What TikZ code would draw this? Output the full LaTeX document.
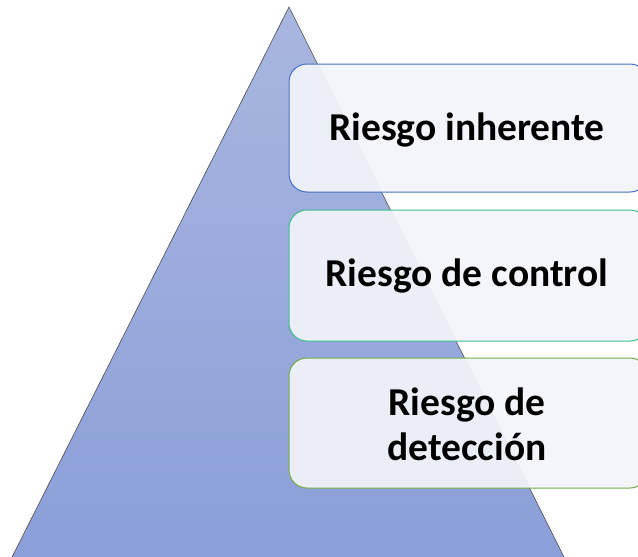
\documentclass[tikz,border=0pt]{standalone}
\usepackage{fontspec}
\setmainfont{Carlito}
\begin{document}
\begin{tikzpicture}[x=1pt,y=-1pt,
  riskbox/.style={draw, line width=1pt, rounded corners=18pt, fill=boxfill, fill opacity=0.93, text opacity=1},
  risklabel/.style={font=\bfseries\fontsize{39.5}{45}\selectfont, align=center, text=black}]
\definecolor{boxfill}{RGB}{243,244,250}
\definecolor{tritop}{RGB}{168,182,224}
\definecolor{tribot}{RGB}{138,158,216}
\definecolor{edgeA}{RGB}{68,114,196}
\definecolor{edgeB}{RGB}{60,190,140}
\definecolor{edgeC}{RGB}{112,173,71}
\useasboundingbox (0,0) rectangle (638,557);
\begin{scope}
\clip (0,0) rectangle (638,557);
\coordinate (apex) at (289,7);
\coordinate (bl) at (3,575);
\coordinate (br) at (573,575);
\shade[top color=tritop, bottom color=tribot, draw=black!70, line width=0.6pt] (apex) -- (br) -- (bl) -- cycle;
\draw[riskbox, draw=edgeA] (289,64) rectangle (648,192);
\draw[riskbox, draw=edgeB] (289,210) rectangle (648,341);
\draw[riskbox, draw=edgeC] (289,358) rectangle (648,488);
\end{scope}
\node[risklabel] (r1) at (467,130) {Riesgo inherente};
\node[risklabel] (r2) at (467,276) {Riesgo de control};
\node[risklabel] (r3) at (467,424) {Riesgo de\\detección};
\end{tikzpicture}
\end{document}
